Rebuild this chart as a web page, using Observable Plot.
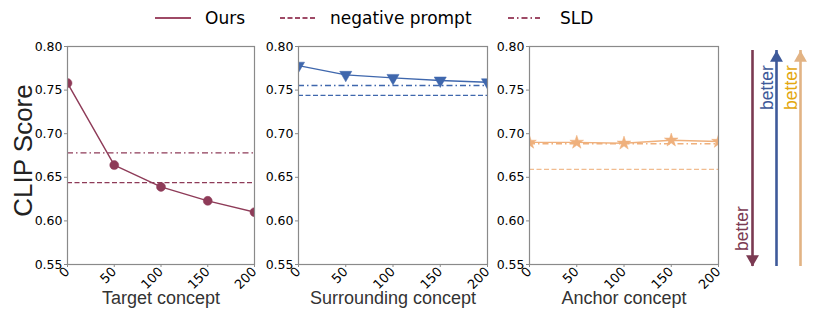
<!DOCTYPE html>
<html><head><meta charset="utf-8">
<script src="https://cdn.jsdelivr.net/npm/d3@7"></script>
<script src="https://cdn.jsdelivr.net/npm/@observablehq/plot@0.6"></script>
<style>
body{margin:0;background:#fff;}
#wrap{position:relative;width:814px;height:324px;overflow:hidden;font-family:"DejaVu Sans";background:#fff;}
.abs{position:absolute;top:0;}
.lg{position:absolute;font-family:"DejaVu Sans";font-size:17px;color:#000;line-height:1;}
</style></head><body>
<div id="wrap"></div>
<script>
// ---- data ----
const steps = [0, 50, 100, 150, 200];
const yTicks = [0.55, 0.60, 0.65, 0.70, 0.75, 0.80];
const panelNames = ["Target concept", "Surrounding concept", "Anchor concept"];
const oursTarget = [0.758, 0.664, 0.639, 0.623, 0.610];
const oursSurrounding = [0.778, 0.7675, 0.764, 0.761, 0.759];
const oursAnchor = [0.690, 0.690, 0.689, 0.6925, 0.691];
const negPrompt = [0.644, 0.744, 0.659];
const sld = [0.678, 0.7553, 0.6885];
const legendNames = ["Ours", "negative prompt", "SLD"];
const arrowKeys = ["target", "surrounding", "anchor"];
const betterLabel = "better";

// ---- styles ----
const colors = ["#8E3B58", "#3F67AD", "#EFB07C"];
const symbols = ["circle", "triangle", "star"];
const arrowColors = ["#7B3A52", "#3E5A9A", "#E2B384"];
const betterColors = ["#7B3A52", "#3E5A9A", "#E3A70F"];
const panelLayout = [
  {left: 0, ml: 67, mr: 6, width: 260},
  {left: 260, ml: 38, mr: 5, width: 232},
  {left: 492, ml: 37, mr: 6, width: 232}
];
const oursAll = [oursTarget, oursSurrounding, oursAnchor];
const frameGray = "#8a8a8a";

const wrap = document.getElementById("wrap");

oursAll.forEach((ours, i) => {
  const cfg = panelLayout[i];
  const data = steps.map((s, j) => ({step: s, v: ours[j]}));
  const marks = [
    Plot.axisX({ticks: steps, tickSize: 3, tickPadding: 2, tickRotate: -45, stroke: frameGray, fill: "#000", label: null, fontSize: 13}),
    Plot.axisY({ticks: yTicks, tickFormat: d3.format(".2f"), tickSize: 3, tickPadding: 2, stroke: frameGray, fill: "#000", label: null, fontSize: 12.5}),
    Plot.ruleY([negPrompt[i]], {stroke: colors[i], strokeWidth: 1.3, strokeDasharray: "5,2.5", strokeOpacity: i === 2 ? 0.85 : 1}),
    Plot.ruleY([sld[i]], {stroke: colors[i], strokeWidth: 1.3, strokeDasharray: "6,3,1.5,3"}),
    Plot.line(data, {x: "step", y: "v", stroke: colors[i], strokeWidth: 1.4, clip: "frame"}),
    Plot.dot(data, {x: "step", y: "v", symbol: symbols[i], fill: colors[i], stroke: colors[i], strokeWidth: 0.5,
      r: i === 2 ? 4.3 : 4.5, rotate: i === 1 ? 180 : 0, clip: "frame"}),
    Plot.frame({stroke: frameGray, strokeWidth: 1.2}),
    Plot.text([panelNames[i]], {text: d => d, frameAnchor: "bottom", dy: 39, fontFamily: "Liberation Sans", fontSize: 18, fill: "#333"})
  ];
  if (i === 0) marks.push(Plot.text(["CLIP Score"], {text: d => d, frameAnchor: "left", textAnchor: "middle", lineAnchor: "middle", dx: -44, dy: -5, rotate: -90, fontSize: 26, fontFamily: "Liberation Sans", fill: "#222"}));
  const p = Plot.plot({
    width: cfg.width, height: 324,
    marginLeft: cfg.ml, marginRight: cfg.mr, marginTop: 46, marginBottom: 60,
    style: {fontFamily: "DejaVu Sans", fontSize: "12px", color: "#000", background: "transparent", overflow: "visible"},
    x: {domain: [0, 200]},
    y: {domain: [0.55, 0.80]},
    marks
  });
  p.classList.add("abs");
  p.style.left = cfg.left + "px";
  wrap.appendChild(p);
});

// ---- arrows on the right ----
const arrowData = arrowKeys.map((k, i) => ({k, i, up: i !== 0}));
const arrows = Plot.plot({
  width: 84, height: 324,
  marginLeft: 22, marginRight: 14, marginTop: 50, marginBottom: 58,
  style: {background: "transparent", overflow: "visible"},
  x: {type: "point", domain: arrowKeys, padding: 0, axis: null},
  y: {domain: [0, 1], axis: null},
  marks: [
    Plot.ruleX(arrowData, {x: "k", y1: 0, y2: 1, stroke: d => arrowColors[d.i], strokeWidth: 2.6}),
    Plot.dot(arrowData.filter(d => d.up), {x: "k", y: 1, symbol: "triangle", r: 4.8, dy: 7.4, fill: d => arrowColors[d.i], stroke: "none"}),
    Plot.dot(arrowData.filter(d => !d.up), {x: "k", y: 0, symbol: "triangle", rotate: 180, r: 4.8, dy: -7.4, fill: d => arrowColors[d.i], stroke: "none"}),
    Plot.text(arrowData.filter(d => !d.up), {x: "k", text: () => betterLabel, frameAnchor: "bottom", lineAnchor: "middle", textAnchor: "middle", dy: -38, dx: -10, rotate: -90, fontSize: 17.5, fontFamily: "Liberation Sans", fill: d => betterColors[d.i]}),
    Plot.text(arrowData.filter(d => d.up), {x: "k", text: () => betterLabel, frameAnchor: "top", lineAnchor: "middle", textAnchor: "middle", dy: 37, dx: -9, rotate: -90, fontSize: 17.5, fontFamily: "Liberation Sans", fill: d => betterColors[d.i]})
  ]
});
arrows.classList.add("abs");
arrows.style.left = "730px";
wrap.appendChild(arrows);

// ---- legend ----
const legendColor = "#9E4A66";
const legendDash = [null, "5,2.5", "6,3,1.5,3"];
const legendPos = [{sx: 155, tx: 205}, {sx: 280, tx: 330}, {sx: 508, tx: 560}];
legendNames.forEach((name, i) => {
  const sw = document.createElementNS("http://www.w3.org/2000/svg", "svg");
  sw.setAttribute("width", 38); sw.setAttribute("height", 10);
  sw.style.position = "absolute"; sw.style.left = legendPos[i].sx + "px"; sw.style.top = "13px";
  const ln = document.createElementNS("http://www.w3.org/2000/svg", "line");
  ln.setAttribute("x1", 0); ln.setAttribute("x2", i === 2 ? 32 : 36); ln.setAttribute("y1", 5); ln.setAttribute("y2", 5);
  ln.setAttribute("stroke", legendColor); ln.setAttribute("stroke-width", 1.8);
  if (legendDash[i]) ln.setAttribute("stroke-dasharray", legendDash[i]);
  sw.appendChild(ln);
  wrap.appendChild(sw);
  const t = document.createElement("div");
  t.className = "lg"; t.textContent = name;
  t.style.left = legendPos[i].tx + "px"; t.style.top = "10px";
  wrap.appendChild(t);
});
</script>
</body></html>
